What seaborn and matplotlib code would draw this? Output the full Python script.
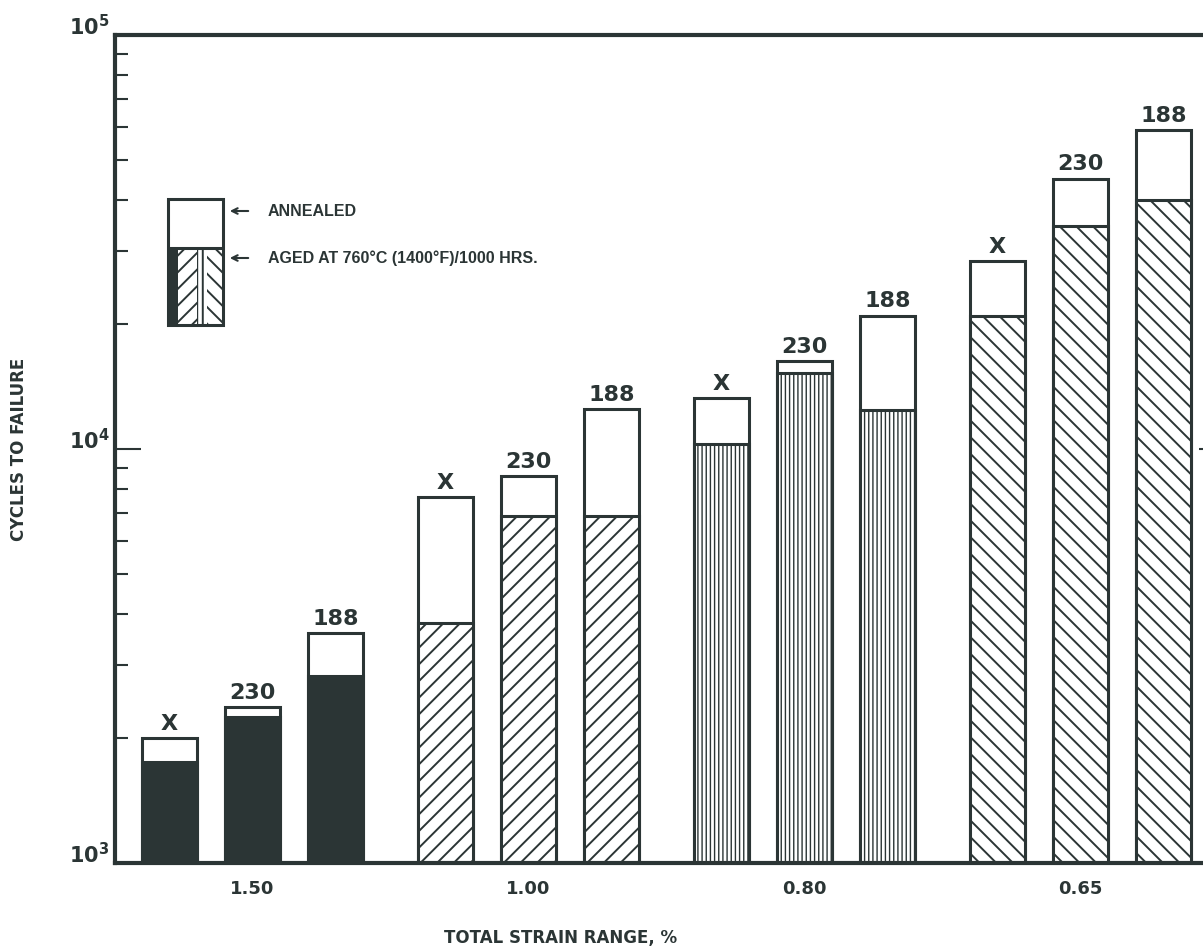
import matplotlib
matplotlib.use('Agg')
import numpy as np
import pandas as pd
import matplotlib.pyplot as plt
import seaborn as sns
from matplotlib.patches import Rectangle

# values (cycles to failure)
strain_ranges = ['1.50', '1.00', '0.80', '0.65']
alloys = ['X', '230', '188']
annealed_X = [2000, 7650, 13300, 28500]
annealed_230 = [2380, 8600, 16300, 45000]
annealed_188 = [3600, 12500, 21000, 59000]
aged_X = [1750, 3800, 10300, 21000]
aged_230 = [2250, 6900, 15300, 34500]
aged_188 = [2830, 6900, 12400, 40000]
ytick_values = [1e3, 1e4, 1e5]
ytick_labels = [r'$\mathbf{10^{3}}$', r'$\mathbf{10^{4}}$', r'$\mathbf{10^{5}}$']

# hatch used for the aged part of each strain-range group (None = solid)
group_hatch = [None, '//', '||||', '\\\\']

rows = []
for alloy, ann, agd in zip(alloys, [annealed_X, annealed_230, annealed_188],
                           [aged_X, aged_230, aged_188]):
    for s, a, g in zip(strain_ranges, ann, agd):
        rows.append({'strain': s, 'alloy': alloy, 'annealed': a, 'aged': g})
df = pd.DataFrame(rows)

dark = '#2b3535'
W, H = 1203, 947

sns.set_style('white')
plt.rcParams['font.family'] = ['DejaVu Sans']
plt.rcParams['hatch.linewidth'] = 1.4
plt.rcParams['hatch.color'] = dark

fig = plt.figure(figsize=(W / 100, H / 100), dpi=100)
ax = fig.add_axes([115 / W, 1 - 863 / H, (1225 - 115) / W, (863 - 35) / H])
ax.set_yscale('log')

common = dict(x='strain', hue='alloy', order=strain_ranges, hue_order=alloys,
              width=0.902, gap=0.34, errorbar=None, legend=False,
              edgecolor=dark, linewidth=2.2, ax=ax)
sns.barplot(data=df, y='annealed', palette=['white'] * 3, **common)
n_before = len(ax.patches)
sns.barplot(data=df, y='aged', palette=['white'] * 3, **common)

for p in ax.patches[n_before:]:
    g = int(round(p.get_x() + p.get_width() / 2))
    if group_hatch[g] is None:
        p.set_facecolor(dark)
    else:
        p.set_hatch(group_hatch[g])
        if '|' in group_hatch[g] and hasattr(p, 'set_hatch_linewidth'):
            p.set_hatch_linewidth(1.0)

# alloy labels above the bars
for cont, alloy in zip(ax.containers[:3], alloys):
    ax.bar_label(cont, labels=[alloy] * len(strain_ranges), padding=3,
                 fontsize=16, fontweight='bold', color=dark)

ax.set_ylim(1e3, 1e5)
ax.set_xlim(-0.498, 3.524)
ax.set_yticks(ytick_values)
ax.set_yticklabels(ytick_labels, fontsize=15, color=dark)
for lab in ax.get_yticklabels():
    lab.set_verticalalignment('baseline')
ax.tick_params(axis='y', which='both', direction='in', left=True, right=True,
               width=1.5, color=dark, pad=4)
ax.tick_params(axis='y', which='major', length=19)
ax.tick_params(axis='y', which='minor', length=9)
ax.tick_params(axis='x', length=0, pad=12, labelsize=13, colors=dark)
for lab in ax.get_xticklabels():
    lab.set_fontweight('bold')
for sp in ax.spines.values():
    sp.set_linewidth(3)
    sp.set_color(dark)

ax.set_xlabel('TOTAL STRAIN RANGE, %', fontsize=12, fontweight='bold', color=dark)
ax.xaxis.set_label_coords(561 / W, 1 - 929 / H, transform=fig.transFigure)
ax.set_ylabel('CYCLES TO FAILURE', fontsize=12, fontweight='bold', color=dark)
ax.yaxis.set_label_coords(28 / W, 1 - 449 / H, transform=fig.transFigure)


# legend key drawn by hand (figure pixel positions)
def fp(x, y):
    return (x / W, 1 - y / H)


def box(x0, y0, x1, y1, **kw):
    r = Rectangle(fp(x0, y1), (x1 - x0) / W, (y1 - y0) / H,
                  transform=fig.transFigure, **kw)
    fig.add_artist(r)


box(168, 248, 178, 325, facecolor=dark, edgecolor=dark, linewidth=0)
box(178, 248, 197, 325, facecolor='white', edgecolor=dark, linewidth=0, hatch='//')
box(197, 248, 207, 325, facecolor='white', edgecolor=dark, linewidth=0, hatch='|||')
box(207, 248, 223, 325, facecolor='white', edgecolor=dark, linewidth=0, hatch='\\\\')
box(168, 199, 223, 325, fill=False, edgecolor=dark, linewidth=2.2)
box(168, 248, 223, 248, fill=False, edgecolor=dark, linewidth=2.2)

for ty, txt in [(211, 'ANNEALED'), (258, 'AGED AT 760°C (1400°F)/1000 HRS.')]:
    ax.annotate('', xy=fp(227, ty), xytext=fp(251, ty), xycoords='figure fraction',
                textcoords='figure fraction',
                arrowprops=dict(arrowstyle='->', lw=1.5, color=dark))
    fig.text(*fp(268, ty), txt, fontsize=11.5, fontweight='bold', color=dark,
             va='center', ha='left', family=['Liberation Sans', 'DejaVu Sans'])

fig.savefig('out.png', dpi=100, facecolor='white')
